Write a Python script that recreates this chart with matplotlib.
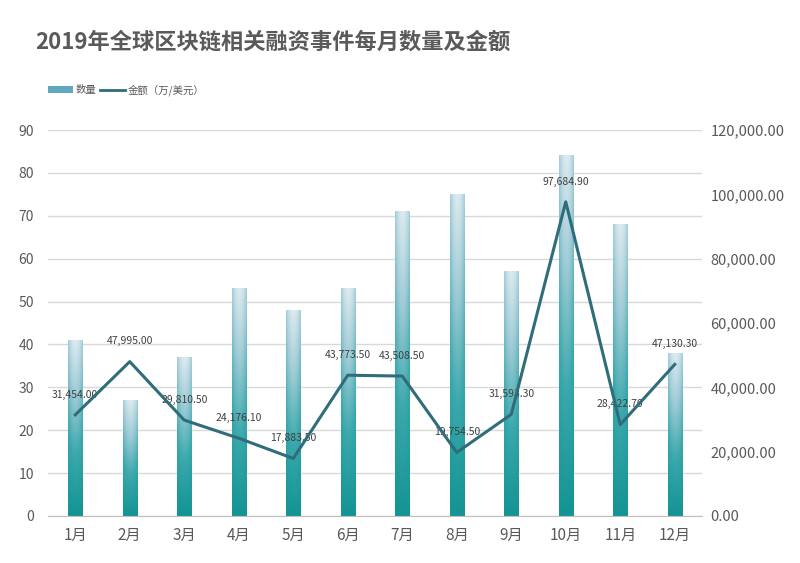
import numpy as np
import matplotlib
matplotlib.use("Agg")
import matplotlib.pyplot as plt
from matplotlib.colors import LinearSegmentedColormap
from matplotlib.patches import Rectangle
from matplotlib.lines import Line2D

plt.rcParams['font.family'] = ['Noto Sans CJK SC', 'DejaVu Sans']

months = ['1月', '2月', '3月', '4月', '5月', '6月', '7月', '8月', '9月', '10月', '11月', '12月']
counts = [41, 27, 37, 53, 48, 53, 71, 75, 57, 84, 68, 38]
amounts = [31454.00, 47995.00, 29810.50, 24176.10, 17883.50, 43773.50,
           43508.50, 19754.50, 31593.30, 97684.90, 28422.70, 47130.30]
left_ticks = list(range(0, 91, 10))
right_ticks = list(range(0, 120001, 20000))

fig = plt.figure(figsize=(8, 5.63), dpi=100)
ax = fig.add_axes([0.06, 0.0835, 0.8175, 0.6855])
ax2 = ax.twinx()

x = np.arange(len(months))
bw = 0.26
cmap = LinearSegmentedColormap.from_list('bar', ['#149494', '#3aa8ac', '#9fcbd6', '#e3edf3'])
for xi, h in zip(x, counts):
    v = np.linspace(0, 1, 200)[:, None]
    hcoord = np.linspace(-1, 1, 40)[None, :]
    grad = v * (1 - 0.3 * hcoord ** 2) * 0.97
    ax.imshow(grad, cmap=cmap, vmin=0, vmax=1, origin='lower', aspect='auto',
              extent=[xi - bw / 2, xi + bw / 2, 0, h], zorder=2, interpolation='bilinear')

ax.set_xlim(-0.5, len(months) - 0.5)
ax.set_ylim(0, 90)
ax.set_yticks(left_ticks)
ax.set_xticks(x)
ax.set_xticklabels(months, fontsize=11, color='#595959')
ax.tick_params(axis='y', labelsize=10, colors='#595959', length=0, pad=10)
ax.tick_params(axis='x', length=0, pad=8)
ax.grid(axis='y', color='#d9d9d9', linewidth=1, zorder=0)
ax.set_axisbelow(True)
for s in ['top', 'right', 'left']:
    ax.spines[s].set_visible(False)
ax.spines['bottom'].set_color('#bfbfbf')

ax2.plot(x, amounts, color='#2f6d7a', linewidth=2.2, zorder=5)
for xi, a in zip(x, amounts):
    ax2.annotate(f'{a:,.2f}', (xi, a), xytext=(0, 11), textcoords='offset points',
                 ha='center', va='bottom', fontsize=7.5, color='#404040')
ax2.set_ylim(0, 120000)
ax2.set_yticks(right_ticks)
ax2.set_yticklabels([f'{t:,.2f}' for t in right_ticks])
ax2.tick_params(axis='y', labelsize=10.5, colors='#595959', length=0, pad=6)
for s in ['top', 'right', 'left', 'bottom']:
    ax2.spines[s].set_visible(False)

fig.text(0.044, 0.925, '2019年全球区块链相关融资事件每月数量及金额', fontsize=16,
         fontweight='bold', color='#5a5a5a', ha='left', va='center')

handles = [Rectangle((0, 0), 1, 1, facecolor='#5fa8bd', edgecolor='none'),
           Line2D([0], [0], color='#2f6d7a', linewidth=2)]
fig.legend(handles, ['数量', '金额（万/美元）'], loc='center left', bbox_to_anchor=(0.048, 0.84),
           ncol=2, frameon=False, fontsize=7.5, handlelength=2.4, handleheight=0.6,
           columnspacing=0.3, handletextpad=0.3, labelcolor='#595959')

fig.savefig('out.png', dpi=100, facecolor='white')
